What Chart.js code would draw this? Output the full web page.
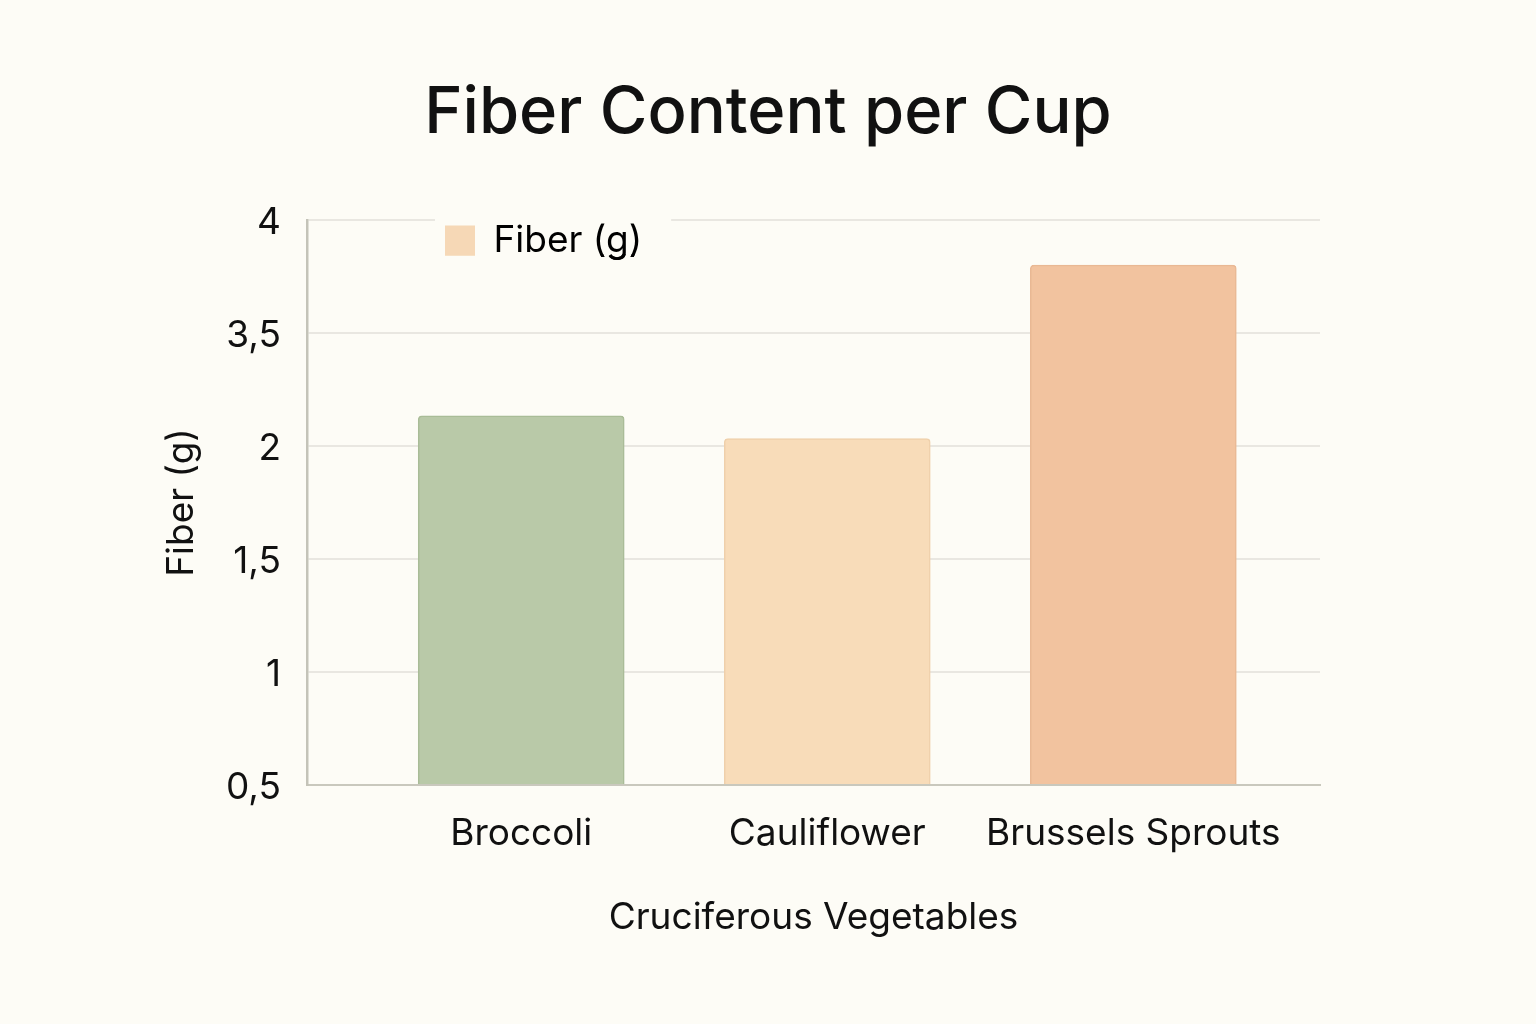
<!DOCTYPE html>
<html>
<head>
<meta charset="utf-8">
<script src="https://cdn.jsdelivr.net/npm/chart.js@4.4.1/dist/chart.umd.min.js"></script>
<style>
  html, body { margin: 0; padding: 0; background: #fdfcf6; }
  #wrap { width: 1536px; height: 1024px; }
</style>
</head>
<body>
<div id="wrap"><canvas id="myChart" width="1536" height="1024"></canvas></div>
<script>
// chart values
const categories = ['Broccoli', 'Cauliflower', 'Brussels Sprouts'];
const fiberGrams = [2.4, 2.1, 3.8];
const yTickValues = [0.5, 1, 1.5, 2, 3.5, 4]; // labels on the y axis, evenly spaced
const barColors = ['#b9c9a8', '#f8dcb9', '#f2c39f'];
const barBorders = ['#a9bc97', '#efd0ab', '#e9b894'];
const legendColor = '#f6d8b6';
const bgColor = '#fdfcf6';
const fontFamily = 'Inter, "Noto Sans", sans-serif';
const textSize = 37;

// the y axis ticks are evenly spaced but not linear, so map a gram value onto tick positions
function toAxis(v) {
  for (let i = 0; i < yTickValues.length - 1; i++) {
    const a = yTickValues[i], b = yTickValues[i + 1];
    if (v >= a && v <= b) return i + (v - a) / (b - a);
  }
  return v < yTickValues[0] ? 0 : yTickValues.length - 1;
}

// legend sits inside the plot, with a patch of background behind it
const legendPlacer = {
  id: 'legendPlacer',
  beforeDraw(chart) {
    const lg = chart.legend, area = chart.chartArea;
    const w = lg.width, h = lg.height;
    lg.left = area.left + 134;
    lg.top = area.top - 2;
    lg.right = lg.left + w;
    lg.bottom = lg.top + h;
  },
  afterDatasetsDraw(chart) {
    const lg = chart.legend, area = chart.chartArea, ctx = chart.ctx;
    const opts = lg.options.labels;
    ctx.save();
    ctx.font = opts.font.size + 'px ' + fontFamily;
    const tw = ctx.measureText(chart.data.datasets[0].label).width;
    const x0 = lg.left + opts.padding - 10;
    const x1 = lg.left + opts.padding + opts.boxWidth + opts.font.size / 2 + tw + 29;
    ctx.fillStyle = bgColor;
    ctx.fillRect(x0, area.top - 6, x1 - x0, 40);
    ctx.restore();
    lg.draw();
  }
};

const ctx = document.getElementById('myChart').getContext('2d');

const myChart = new Chart(ctx, {
  type: 'bar',
  data: {
    datasets: [
      {
        label: 'Fiber (g)',
        data: categories.map((c, i) => ({ x: i, y: toAxis(fiberGrams[i]) })),
        backgroundColor: barColors,
        borderColor: barBorders,
        borderWidth: 1.5,
        borderRadius: 4,
        borderSkipped: 'start',
        barThickness: 206
      }
    ]
  },
  options: {
    responsive: false,
    animation: false,
    layout: { padding: 0 },
    plugins: {
      title: {
        display: true,
        text: 'Fiber Content per Cup',
        color: '#111111',
        font: { family: fontFamily, size: 65, weight: '500' },
        padding: { top: 74, bottom: 68 }
      },
      legend: {
        display: true,
        position: 'chartArea',
        align: 'start',
        labels: {
          color: '#111111',
          font: { family: fontFamily, size: textSize },
          boxWidth: 30,
          boxHeight: 30,
          padding: 4,
          generateLabels: (chart) => [{
            text: chart.data.datasets[0].label,
            fillStyle: legendColor,
            strokeStyle: legendColor,
            lineWidth: 0,
            hidden: false,
            datasetIndex: 0
          }]
        }
      },
      tooltip: { enabled: false }
    },
    scales: {
      x: {
        type: 'linear',
        offset: false,
        min: -0.7,
        max: 2.61,
        afterBuildTicks: (scale) => { scale.ticks = categories.map((c, i) => ({ value: i })); },
        afterFit: (scale) => { scale.height = 239; },
        ticks: {
          callback: (value) => categories[value],
          color: '#111111',
          font: { family: fontFamily, size: textSize },
          padding: 27,
          maxRotation: 0,
          autoSkip: false
        },
        grid: { display: false, drawTicks: false },
        border: { color: '#c9c8bd', width: 2 },
        title: {
          display: true,
          text: 'Cruciferous Vegetables',
          color: '#111111',
          font: { family: fontFamily, size: textSize },
          padding: { top: 0, bottom: 84 }
        }
      },
      y: {
        type: 'linear',
        min: 0,
        max: yTickValues.length - 1,
        afterFit: (scale) => { scale.width = 307; },
        ticks: {
          stepSize: 1,
          callback: (value) => String(yTickValues[value]).replace('.', ','),
          color: '#111111',
          font: { family: fontFamily, size: textSize },
          padding: 26,
          labelOffset: 3
        },
        grid: { color: '#e9e7e1', lineWidth: 2, drawTicks: false },
        border: { color: '#c4c3b8', width: 2.5 },
        title: {
          display: true,
          text: 'Fiber (g)',
          color: '#111111',
          font: { family: fontFamily, size: textSize },
          padding: { top: 160, bottom: 0 }
        }
      },
      // empty right-hand axis: keeps the plot narrower without shifting the centred title
      spacer: {
        type: 'linear',
        position: 'right',
        display: true,
        afterFit: (scale) => { scale.width = 216; },
        ticks: { display: false },
        grid: { display: false, drawTicks: false },
        border: { display: false }
      }
    }
  },
  plugins: [legendPlacer]
});
</script>
</body>
</html>
